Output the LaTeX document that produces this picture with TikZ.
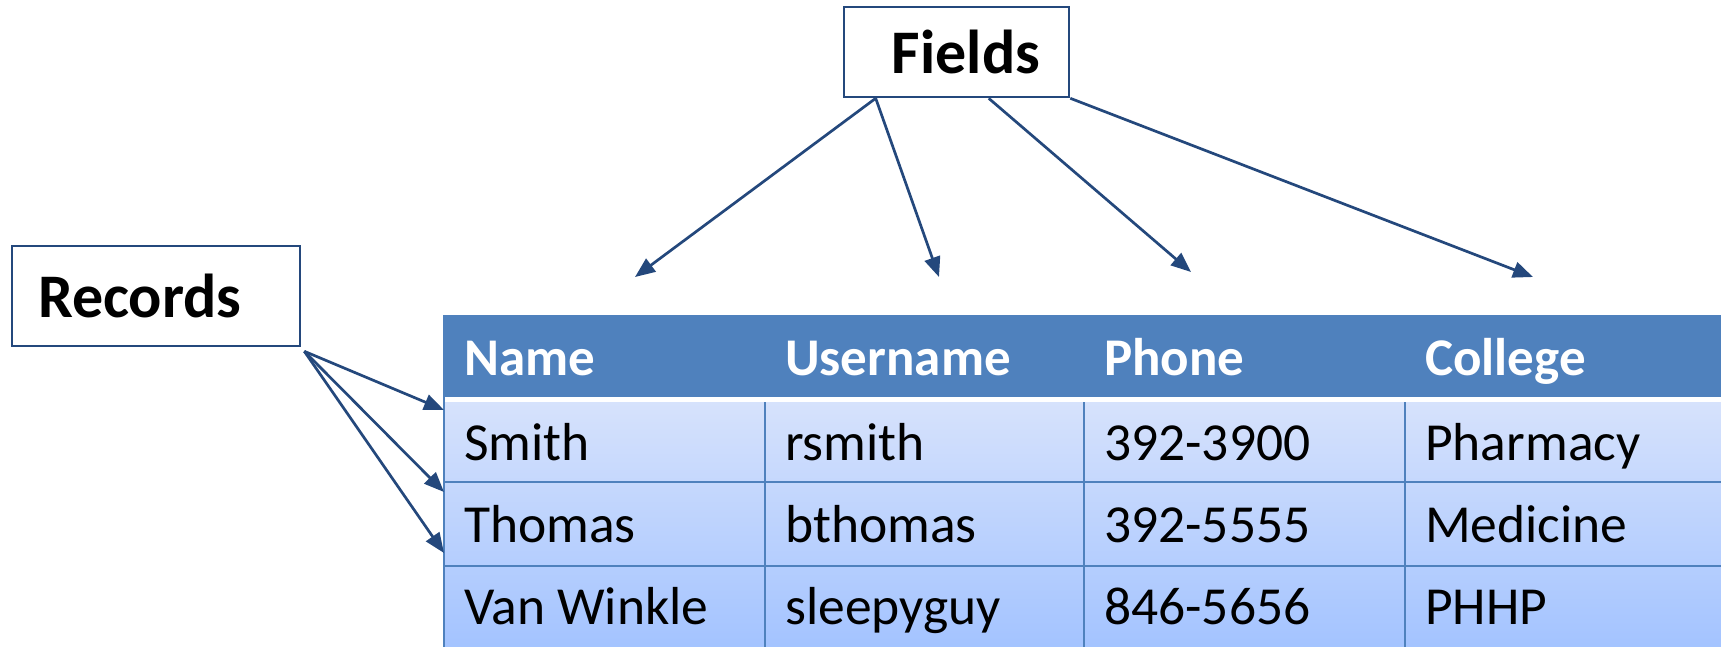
\documentclass[tikz,border=0pt]{standalone}
\usepackage{fontspec}
\setmainfont{Carlito}
\usetikzlibrary{arrows.meta, positioning, calc}

\definecolor{hdrblue}{RGB}{79,129,189}
\definecolor{linkblue}{RGB}{36,72,124}
\definecolor{rowtop}{RGB}{214,226,252}
\definecolor{rowbot}{RGB}{163,195,255}

\begin{document}
\begin{tikzpicture}[
x=1pt, y=-1pt,
>={Triangle[length=20pt, width=16pt]},
labelbox/.style={
rectangle,
draw=linkblue, line width=2.6pt,
font=\fontsize{62}{70}\selectfont\bfseries
},
cell/.style={
anchor=base west, inner sep=0pt,
font=\fontsize{53.5}{60}\selectfont
},
headcell/.style={
cell, text=white,
font=\fontsize{53}{60}\selectfont\bfseries
},
grid/.style={draw=hdrblue, line width=1.8pt},
arrow/.style={->, draw=linkblue, line width=2.7pt}
]

\clip (0,0) rectangle (1721,647);

% table background
\fill[hdrblue] (444,315) rectangle (1740,397);
\shade[top color=rowtop, bottom color=rowbot] (444,402) rectangle (1740,650);

\draw[grid] (444,315) -- (444,650);
\foreach \x in {765, 1084, 1405}
  \draw[grid] (\x,402) -- (\x,650);
\foreach \y in {482, 566}
  \draw[grid] (444,\y) -- (1740,\y);

% header and rows
\foreach \txt/\x [count=\i] in {Name/464, Username/785, Phone/1104, College/1425}
  \node[headcell] (head\i) at (\x,375) {\txt};

\foreach \na/\us/\ph/\co/\y [count=\r] in {
  Smith/rsmith/392-3900/Pharmacy/460,
  Thomas/bthomas/392-5555/Medicine/542,
  Van Winkle/sleepyguy/846-5656/PHHP/624}
{
  \node[cell] (name\r) at (464,\y) {\na};
  \node[cell] (user\r) at (785,\y) {\us};
  \node[cell] (phone\r) at (1104,\y) {\ph};
  \node[cell] (college\r) at (1425,\y) {\co};
}

% labels
\node[labelbox, minimum width=288pt, minimum height=100pt,
  inner xsep=26pt, text width=236pt, align=left] (records) at (156,296) {Records};

\node[labelbox, minimum width=225pt, minimum height=90pt,
  inner xsep=29pt, text width=167pt, align=right] (fields) at (956.5,52) {Fields};

% arrow ends
\coordinate (fieldtip1) at (635,277);
\coordinate (fieldtip2) at (939,277);
\coordinate (fieldtip3) at (1191,272);
\coordinate (fieldtip4) at (1533,277);

\coordinate (rowtip1) at (444,410);
\coordinate (rowtip2) at (444,492);
\coordinate (rowtip3) at (444,553);

\draw[arrow] ($(fields.south west)+(33,0)$) -- (fieldtip1);
\draw[arrow] ($(fields.south west)+(33,0)$) -- (fieldtip2);
\draw[arrow] ($(fields.south west)+(146,0)$) -- (fieldtip3);
\draw[arrow] (fields.south east) -- (fieldtip4);

\foreach \r in {1,2,3}
  \draw[arrow] ($(records.south east)+(3,4)$) -- (rowtip\r);

\end{tikzpicture}
\end{document}
